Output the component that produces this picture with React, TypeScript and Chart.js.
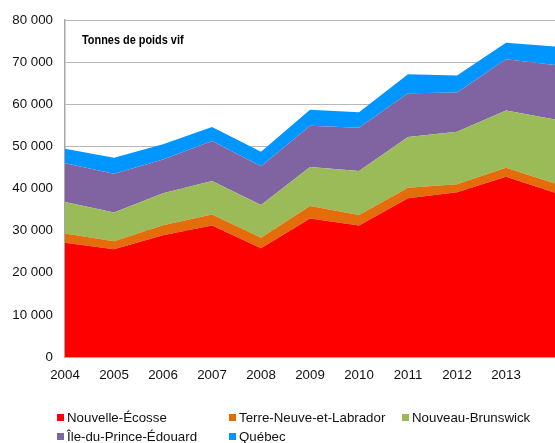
import React, { useEffect, useRef } from "react";
import { Chart, registerables } from "chart.js";

Chart.register(...registerables);

const years = ["2004", "2005", "2006", "2007", "2008", "2009", "2010", "2011", "2012", "2013", "2014"];
const novaScotia = [27100, 25600, 28900, 31200, 25800, 32900, 31200, 37700, 39100, 42800, 39000];
const newfoundland = [2200, 1900, 2400, 2600, 2500, 2950, 2500, 2500, 1900, 2100, 2200];
const newBrunswick = [7500, 6800, 7550, 8000, 7800, 9250, 10450, 12000, 12500, 13600, 15200];
const princeEdward = [9200, 9200, 8050, 9500, 9200, 9800, 10250, 10400, 9300, 12200, 12900];
const quebec = [3450, 3800, 3600, 3300, 3400, 3800, 3700, 4500, 4000, 3900, 4400];

const seriesNames = ["Nouvelle-Écosse", "Terre-Neuve-et-Labrador", "Nouveau-Brunswick", "Île-du-Prince-Édouard", "Québec"];
const seriesColors = ["#FF0000", "#E46C0A", "#9BBB59", "#8064A2", "#0096FF"];
const seriesValues = [novaScotia, newfoundland, newBrunswick, princeEdward, quebec];
const chartTitle = "Tonnes de poids vif";

const FONT = "'Liberation Sans', Arial, sans-serif";

const legendLayout = [
  { left: 57, top: 417 },
  { left: 229, top: 417 },
  { left: 402, top: 417 },
  { left: 57, top: 436 },
  { left: 229, top: 436 },
];

function fmt(v: number): string {
  return Math.round(v).toString().replace(/\B(?=(\d{3})+(?!\d))/g, " ");
}

const titlePlugin = {
  id: "innerTitle",
  afterDraw(chart: any) {
    const { ctx, chartArea } = chart;
    ctx.save();
    ctx.font = `bold 13.3px ${FONT}`;
    ctx.fillStyle = "#000";
    ctx.textBaseline = "middle";
    ctx.textAlign = "left";
    const x = chartArea.left + 17;
    const y = chartArea.top + 20;
    ctx.translate(x, y);
    ctx.scale(0.82, 1);
    ctx.fillText(chartTitle, 0, 0);
    ctx.restore();
  },
};

export default function App() {
  const ref = useRef<HTMLCanvasElement | null>(null);

  useEffect(() => {
    if (!ref.current) return;
    const chart = new Chart(ref.current, {
      type: "line",
      data: {
        labels: years,
        datasets: seriesValues.map((vals, i) => ({
          label: seriesNames[i],
          data: vals,
          backgroundColor: seriesColors[i],
          borderColor: seriesColors[i],
          borderWidth: 0,
          pointRadius: 0,
          tension: 0,
          fill: i === 0 ? "origin" : "-1",
        })),
      },
      options: {
        responsive: false,
        animation: false,
        layout: { padding: { top: 20, right: 0, bottom: 0, left: 0 } },
        plugins: {
          legend: { display: false },
          tooltip: { enabled: false },
          title: { display: false },
        },
        scales: {
          x: {
            offset: false,
            grid: { display: false, drawTicks: false },
            border: { display: true, color: "#a6a6a6", width: 1.5 },
            ticks: {
              padding: 10,
              maxRotation: 0,
              autoSkip: false,
              color: "#111",
              font: { family: FONT, size: 13.3 },
              callback: (_v: any, idx: number) => (idx === years.length - 1 ? "" : years[idx]),
            },
            afterFit: (scale: any) => {
              scale.height = 443 - 357;
              scale.paddingRight = 0;
            },
          },
          y: {
            stacked: true,
            min: 0,
            max: 80000,
            grid: { color: "#b8b8b8", lineWidth: 1, drawTicks: false },
            border: { display: true, color: "#a6a6a6", width: 1.5 },
            ticks: {
              stepSize: 10000,
              padding: 12,
              color: "#111",
              font: { family: FONT, size: 13.3 },
              callback: (v: any) => fmt(Number(v)),
            },
            afterFit: (scale: any) => {
              scale.width = 65;
            },
          },
        },
      },
      plugins: [titlePlugin],
    });
    return () => chart.destroy();
  }, []);

  return (
    <div style={{ position: "fixed", left: 0, top: 0, width: 555, height: 443, overflow: "hidden", background: "#fff" }}>
      <canvas ref={ref} width={555} height={443} style={{ display: "block" }} />
      {seriesNames.map((name, i) => (
        <div
          key={name}
          style={{
            position: "absolute",
            left: legendLayout[i].left,
            top: legendLayout[i].top - 8,
            height: 16,
            display: "flex",
            alignItems: "center",
            whiteSpace: "nowrap",
            fontFamily: FONT,
            fontSize: "13.3px",
            color: "#111",
          }}
        >
          <span style={{ display: "inline-block", width: 7, height: 7, background: seriesColors[i], marginRight: 3 }} />
          <span>{name}</span>
        </div>
      ))}
    </div>
  );
}
